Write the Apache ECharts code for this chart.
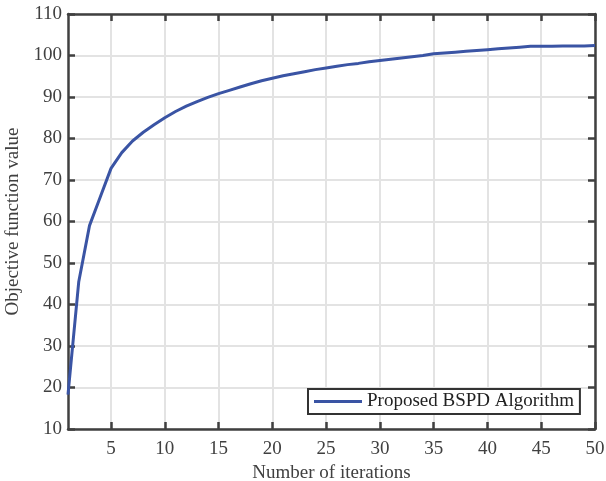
<!DOCTYPE html>
<html>
<head>
<meta charset="utf-8">
<style>
  html, body { margin: 0; padding: 0; background: #ffffff; }
  #chart { width: 606px; height: 481px; }
</style>
<script src="https://cdn.jsdelivr.net/npm/echarts@6/dist/echarts.min.js"></script>
</head>
<body>
<div id="chart"></div>
<script>
// Iteration index (1..50)
const iterations = [
  1, 2, 3, 4, 5, 6, 7, 8, 9, 10,
  11, 12, 13, 14, 15, 16, 17, 18, 19, 20,
  21, 22, 23, 24, 25, 26, 27, 28, 29, 30,
  31, 32, 33, 34, 35, 36, 37, 38, 39, 40,
  41, 42, 43, 44, 45, 46, 47, 48, 49, 50
];

// Objective function value per iteration
const objectiveValues = [
  18.3, 45.5, 59.0, 65.9, 72.8, 76.6, 79.4, 81.5, 83.3, 85.0,
  86.5, 87.8, 88.9, 89.9, 90.8, 91.6, 92.4, 93.2, 93.9, 94.5,
  95.1, 95.6, 96.1, 96.6, 97.0, 97.4, 97.8, 98.1, 98.5, 98.8,
  99.1, 99.4, 99.7, 100.0, 100.4, 100.6, 100.8, 101.0, 101.2, 101.4,
  101.6, 101.8, 102.0, 102.2, 102.2, 102.2, 102.3, 102.3, 102.3, 102.4
];

const seriesName = 'Proposed BSPD Algorithm';
const xAxisTitle = 'Number of iterations';
const yAxisTitle = 'Objective function value';

const FONT = '"Liberation Serif", "Times New Roman", serif';
const AXIS_COLOR = '#404040';
const GRID_COLOR = '#e3e3e3';
const LINE_COLOR = '#3a54a4';

const everyFifth = (idx, val) => Number(val) % 5 === 0;

const chart = echarts.init(document.getElementById('chart'), null, { renderer: 'canvas' });

chart.setOption({
  animation: false,
  backgroundColor: '#ffffff',
  grid: { left: 68, right: 11, top: 14, bottom: 52, containLabel: false, outerBoundsMode: 'none' },
  legend: {
    data: [{ name: seriesName, icon: 'rect' }],
    left: 308,
    top: 389,
    padding: [2, 6, 2, 6],
    itemWidth: 48,
    itemHeight: 3,
    itemGap: 4,
    borderColor: '#333333',
    borderWidth: 2,
    backgroundColor: '#ffffff',
    textStyle: { fontFamily: FONT, fontSize: 19, color: '#222222', lineHeight: 21 }
  },
  xAxis: [
    {
      type: 'category',
      data: iterations,
      boundaryGap: false,
      position: 'bottom',
      name: xAxisTitle,
      nameLocation: 'middle',
      nameGap: 35,
      nameTextStyle: { fontFamily: FONT, fontSize: 19, color: AXIS_COLOR },
      axisLine: { show: true, lineStyle: { color: AXIS_COLOR, width: 2.5 } },
      axisTick: { show: true, inside: true, length: 7, interval: everyFifth, lineStyle: { color: AXIS_COLOR, width: 2.5 } },
      axisLabel: { interval: everyFifth, margin: 11, fontFamily: FONT, fontSize: 19, color: AXIS_COLOR },
      splitLine: { show: true, interval: everyFifth, lineStyle: { color: GRID_COLOR, width: 2 } }
    },
    {
      type: 'category',
      data: iterations,
      boundaryGap: false,
      position: 'top',
      axisLine: { show: true, onZero: false, lineStyle: { color: AXIS_COLOR, width: 2.5 } },
      axisTick: { show: true, inside: true, length: 7, interval: everyFifth, lineStyle: { color: AXIS_COLOR, width: 2.5 } },
      axisLabel: { show: false },
      splitLine: { show: false }
    }
  ],
  yAxis: [
    {
      type: 'value',
      min: 10,
      max: 110,
      interval: 10,
      position: 'left',
      name: yAxisTitle,
      nameLocation: 'middle',
      nameGap: 38,
      nameTextStyle: { fontFamily: FONT, fontSize: 19, color: AXIS_COLOR },
      axisLine: { show: true, onZero: false, lineStyle: { color: AXIS_COLOR, width: 2.5 } },
      axisTick: { show: true, inside: true, length: 7, lineStyle: { color: AXIS_COLOR, width: 2.5 } },
      axisLabel: { margin: 6, fontFamily: FONT, fontSize: 19, color: AXIS_COLOR },
      splitLine: { show: true, lineStyle: { color: GRID_COLOR, width: 2 } }
    },
    {
      type: 'value',
      min: 10,
      max: 110,
      interval: 10,
      position: 'right',
      axisLine: { show: true, onZero: false, lineStyle: { color: AXIS_COLOR, width: 2.5 } },
      axisTick: { show: true, inside: true, length: 7, lineStyle: { color: AXIS_COLOR, width: 2.5 } },
      axisLabel: { show: false },
      splitLine: { show: false }
    }
  ],
  series: [
    {
      name: seriesName,
      type: 'line',
      data: objectiveValues,
      xAxisIndex: 0,
      yAxisIndex: 0,
      symbol: 'none',
      smooth: false,
      lineStyle: { color: LINE_COLOR, width: 3 },
      itemStyle: { color: LINE_COLOR },
      z: 3
    }
  ]
});
</script>
</body>
</html>
